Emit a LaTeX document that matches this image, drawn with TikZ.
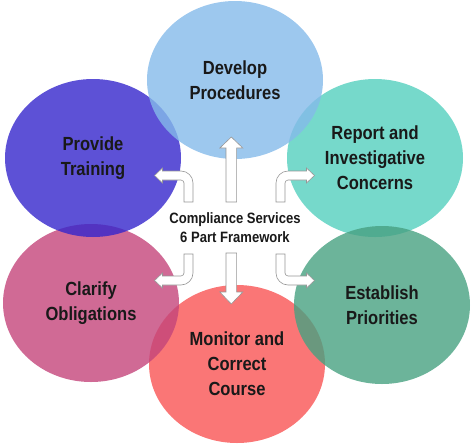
\documentclass[tikz,border=0pt]{standalone}
\usepackage{fontspec}
\setmainfont{Liberation Sans}[FakeStretch=0.87]
\usetikzlibrary{shapes.geometric}

\definecolor{develop}{RGB}{133,186,234}
\definecolor{training}{RGB}{52,38,204}
\definecolor{report}{RGB}{84,207,190}
\definecolor{establish}{RGB}{71,161,129}
\definecolor{monitor}{RGB}{249,84,84}
\definecolor{clarify}{RGB}{196,69,123}
\definecolor{arrowline}{RGB}{150,150,150}

\newcommand{\bentshape}{(-41.5,-26) -- (-41.5,-45) .. controls (-41.5,-51.6) and (-46.9,-57) .. (-53.5,-57) -- (-72,-57) -- (-72,-60) -- (-80,-52.5) -- (-72,-45) -- (-72,-48) -- (-53.5,-48) .. controls (-51.8,-48) and (-50.5,-46.3) .. (-50.5,-45) -- (-50.5,-26) -- cycle}

\begin{document}
\begin{tikzpicture}[x=1pt, y=-1pt,
	blob/.style={ellipse, inner sep=0pt, minimum width=176pt, minimum height=158pt, fill opacity=0.8, text opacity=1, align=center, text=black!90, font=\fontsize{19}{25}\selectfont\bfseries},
	blockarrow/.style={draw=arrowline, fill=white, line width=0.6pt, line join=miter}]
	\useasboundingbox (0,0) rectangle (474,445);

	\node[blob, fill=report] (report) at (375,158) {Report and\\Investigative\\Concerns};
	\node[blob, fill=monitor] (monitor) at (237,364) {Monitor and\\Correct\\Course};
	\node[blob, fill=establish] (establish) at (382,305) {Establish\\Priorities};
	\node[blob, fill=clarify] (clarify) at (91,303) {Clarify\\Obligations};
	\node[blob, fill=training] (training) at (93,158) {Provide\\Training};
	\node[blob, fill=develop] (develop) at (235,80) {Develop\\Procedures};

	\node[align=center, text=black!90, font=\fontsize{15}{19}\selectfont\bfseries] (hub) at (235,228) {Compliance Services\\6 Part Framework};

	\begin{scope}[shift={(234.5,228)}]
		\draw[blockarrow] (-8.5,-26) -- (-8.5,-80) -- (-14.7,-80) -- (-3.2,-91) -- (8.3,-80) -- (2.1,-80) -- (2.1,-26) -- cycle;
		\draw[blockarrow] (-8.5,25) -- (-8.5,64) -- (-14.7,64) -- (-3.2,76) -- (8.3,64) -- (2.1,64) -- (2.1,25) -- cycle;
		\draw[blockarrow] \bentshape;
		\begin{scope}[xscale=-1]
			\draw[blockarrow] \bentshape;
		\end{scope}
		\begin{scope}[yscale=-1]
			\draw[blockarrow] \bentshape;
		\end{scope}
		\begin{scope}[xscale=-1, yscale=-1]
			\draw[blockarrow] \bentshape;
		\end{scope}
	\end{scope}
\end{tikzpicture}
\end{document}
